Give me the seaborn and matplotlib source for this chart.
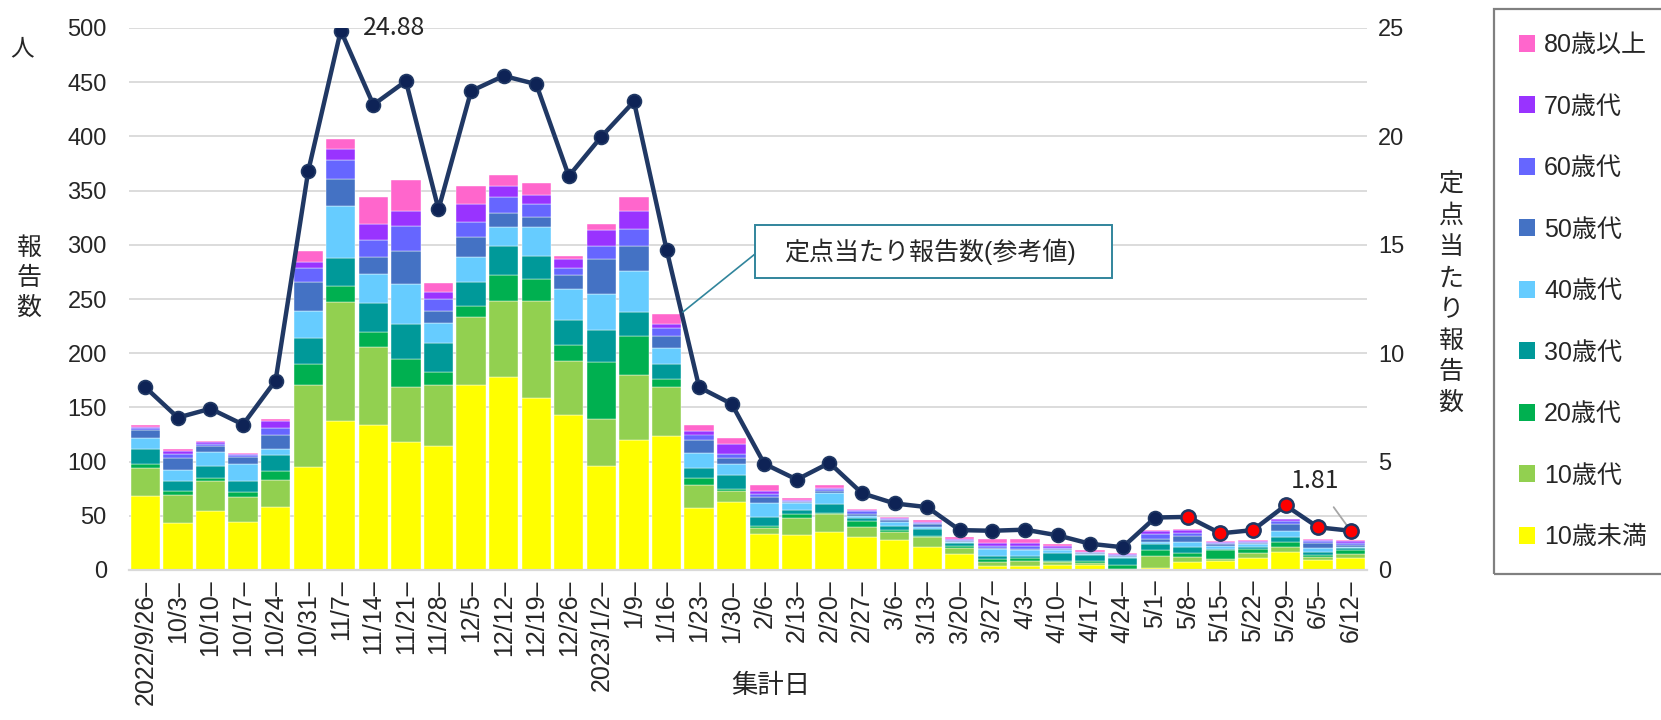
import matplotlib
matplotlib.use("Agg")
import matplotlib.pyplot as plt
import numpy as np
import pandas as pd
import seaborn as sns
from matplotlib.patches import Patch, Rectangle

# ---------------- data ----------------
dates = ['2022/9/26', '10/3', '10/10', '10/17', '10/24', '10/31', '11/7', '11/14',
         '11/21', '11/28', '12/5', '12/12', '12/19', '12/26', '2023/1/2', '1/9',
         '1/16', '1/23', '1/30', '2/6', '2/13', '2/20', '2/27', '3/6', '3/13',
         '3/20', '3/27', '4/3', '4/10', '4/17', '4/24', '5/1', '5/8', '5/15',
         '5/22', '5/29', '6/5', '6/12']

age_under10 = [68, 43, 54, 44, 58, 95, 137, 134, 118, 114, 171, 178, 159, 143, 96, 120, 124, 57, 63, 33,
               32, 35, 30, 28, 21, 15, 4, 4, 5, 5, 0, 2, 7, 8, 11, 17, 9, 11]
age_10s = [26, 26, 28, 23, 25, 76, 110, 72, 51, 57, 62, 70, 89, 50, 43, 60, 45, 21, 10, 6,
           16, 17, 10, 7, 9, 5, 3, 4, 2, 1, 1, 11, 5, 2, 5, 4, 3, 4]
age_20s = [4, 4, 3, 5, 8, 19, 15, 14, 26, 12, 11, 24, 20, 15, 53, 36, 7, 7, 2, 2,
           4, 1, 5, 2, 1, 2, 3, 3, 1, 2, 4, 5, 4, 8, 3, 5, 2, 3]
age_30s = [14, 9, 11, 10, 15, 24, 26, 26, 32, 26, 22, 27, 22, 23, 29, 22, 14, 9, 13, 8,
           3, 8, 3, 4, 7, 3, 3, 2, 8, 6, 6, 6, 5, 1, 2, 4, 3, 2]
age_40s = [10, 10, 13, 16, 6, 25, 48, 27, 37, 19, 23, 17, 26, 28, 34, 38, 15, 14, 10, 13,
           7, 10, 2, 3, 2, 1, 6, 5, 2, 1, 1, 2, 5, 3, 3, 6, 3, 1]
age_50s = [7, 11, 5, 6, 13, 27, 25, 16, 30, 11, 18, 13, 10, 13, 32, 23, 11, 12, 5, 5,
           1, 2, 2, 2, 2, 1, 1, 1, 1, 1, 1, 3, 5, 2, 1, 6, 5, 2]
age_60s = [2, 4, 2, 2, 6, 13, 17, 15, 23, 11, 14, 15, 12, 7, 12, 16, 7, 5, 4, 3,
           1, 2, 2, 1, 1, 1, 2, 3, 1, 1, 1, 4, 3, 1, 1, 3, 2, 2]
age_70s = [1, 3, 2, 1, 6, 5, 10, 15, 14, 6, 17, 10, 8, 8, 15, 16, 4, 3, 9, 3,
           1, 1, 1, 1, 1, 1, 3, 3, 2, 0, 1, 3, 3, 1, 1, 2, 1, 2]
age_80plus = [2, 2, 1, 1, 2, 10, 10, 25, 29, 9, 16, 10, 11, 3, 5, 13, 9, 6, 6, 5,
              1, 2, 1, 1, 2, 1, 4, 4, 2, 1, 1, 1, 1, 1, 1, 0, 1, 1]

per_site = [8.43, 7.03, 7.44, 6.71, 8.74, 18.39, 24.88, 21.46, 22.55, 16.64,
            22.09, 22.79, 22.41, 18.17, 19.99, 21.61, 14.78, 8.43, 7.66, 4.90,
            4.17, 4.94, 3.54, 3.07, 2.90, 1.84, 1.81, 1.86, 1.60, 1.21,
            1.05, 2.42, 2.45, 1.69, 1.84, 2.98, 1.97, 1.81]
# points shown with red markers (from 5/8)
red_flag = [False] * 32 + [True] * 6

age_labels = ['80歳以上', '70歳代', '60歳代', '50歳代', '40歳代', '30歳代', '20歳代', '10歳代', '10歳未満']
age_series = [age_80plus, age_70s, age_60s, age_50s, age_40s, age_30s, age_20s, age_10s, age_under10]
age_colors = ['#FF66CC', '#9933FF', '#6666FF', '#4472C4', '#66CCFF', '#009999', '#00B050', '#92D050', '#FFFF00']

# ---------------- tables ----------------
n = len(dates)
rows = []
for lab, ser in zip(age_labels, age_series):
    for i, v in enumerate(ser):
        rows.append({'idx': i, 'age': lab, 'count': v})
df = pd.DataFrame(rows)
line_df = pd.DataFrame({'idx': range(n), 'rate': per_site, 'red': red_flag})

# ---------------- style ----------------
sns.set_theme(style='white')
plt.rcParams['font.family'] = ['Liberation Sans', 'Noto Sans CJK JP']
FIG_W, FIG_H = 1661, 720

fig = plt.figure(figsize=(FIG_W / 100, FIG_H / 100), dpi=100)
fig.patch.set_facecolor('white')
L, R, T, B = 129, 1367, 28, 570
ax = fig.add_axes([L / FIG_W, 1 - B / FIG_H, (R - L) / FIG_W, (B - T) / FIG_H])

palette = dict(zip(age_labels, age_colors))
sns.histplot(data=df, x='idx', weights='count', hue='age', hue_order=age_labels,
             multiple='stack', discrete=True, shrink=0.9, palette=palette,
             alpha=1, edgecolor='white', linewidth=0.3, legend=False, ax=ax)

ax.set_xlim(-0.5, n - 0.5)
ax.set_ylim(0, 500)
ax.set_yticks(range(0, 501, 50))
ax.set_xticks(range(n))
ax.set_xticklabels([d + '–' for d in dates], rotation=90, fontsize=18)
ax.tick_params(axis='x', length=0, pad=7)
ax.tick_params(axis='y', length=0, pad=16, labelsize=17)
ax.set_xlabel('')
ax.set_ylabel('')
ax.yaxis.grid(True, color='#D9D9D9', linewidth=1.3)
ax.xaxis.grid(False)
ax.set_axisbelow(True)
for s in ['left', 'right', 'top']:
    ax.spines[s].set_visible(False)
ax.spines['bottom'].set_color('#D9D9D9')
ax.spines['bottom'].set_linewidth(1.6)

# ---------------- line (right axis) ----------------
ax2 = ax.twinx()
sns.lineplot(data=line_df, x='idx', y='rate', ax=ax2, color='#203864', linewidth=3.2,
             marker='o', markersize=10, markerfacecolor='#0E2356', markeredgecolor='#203864',
             markeredgewidth=1.2, zorder=3)
sns.scatterplot(data=line_df[line_df['red']], x='idx', y='rate', ax=ax2, color='#FF0000',
                s=105, edgecolor='#203864', linewidth=1.8, zorder=4)
ax2.set_ylim(0, 25)
ax2.set_yticks(range(0, 26, 5))
ax2.set_xlim(-0.5, n - 0.5)
ax2.tick_params(axis='y', length=0, pad=8, labelsize=17)
ax2.set_xlabel('')
ax2.set_ylabel('')
for s in ax2.spines.values():
    s.set_visible(False)

# data labels
imax = int(np.argmax(per_site))
ax2.annotate(f'{per_site[imax]:.2f}', xy=(imax, per_site[imax]), xytext=(16, 2),
             textcoords='offset points', ha='left', va='center', fontsize=18,
             family=['Noto Sans CJK JP'])
ilast = n - 1
ax2.annotate(f'{per_site[ilast]:.2f}', xy=(ilast, per_site[ilast]), xytext=(-26, 36),
             textcoords='offset points', ha='center', va='center', fontsize=18,
             family=['Noto Sans CJK JP'],
             arrowprops=dict(arrowstyle='-', color='#A6A6A6', lw=1.3, shrinkA=9, shrinkB=3))

# callout for the line series
box_color = '#31859C'
bx0, by0, bx1, by1 = 755, 225, 1112, 278
fig.patches.append(Rectangle((bx0 / FIG_W, 1 - by1 / FIG_H), (bx1 - bx0) / FIG_W, (by1 - by0) / FIG_H,
                             transform=fig.transFigure, fill=True, facecolor='white',
                             edgecolor=box_color, linewidth=1.4, zorder=5))
fig.text((bx0 + bx1) / 2 / FIG_W - 0.002, 1 - (by0 + by1) / 2 / FIG_H, '定点当たり報告数(参考値)',
         ha='center', va='center', fontsize=18, zorder=6)
ax2.annotate('', xy=(16.5, 11.9), xycoords='data',
             xytext=(bx0 / FIG_W, 1 - 254 / FIG_H), textcoords='figure fraction',
             arrowprops=dict(arrowstyle='-', color=box_color, lw=1.2, shrinkA=0, shrinkB=0))

# axis titles
fig.text(22 / FIG_W, 1 - 49 / FIG_H, '人', ha='center', va='center', fontsize=17)
fig.text(29 / FIG_W, 1 - 278 / FIG_H, '報\n告\n数', ha='center', va='center', fontsize=18,
         linespacing=1.3)
fig.text(1451 / FIG_W, 1 - 294 / FIG_H, '\n'.join('定点当たり報告数'), ha='center', va='center',
         fontsize=18, linespacing=1.38)
fig.text(771 / FIG_W, 1 - 686 / FIG_H, '集計日', ha='center', va='center', fontsize=19)

# legend
fig.patches.append(Rectangle((1494 / FIG_W, 1 - 574 / FIG_H), (FIG_W + 10 - 1494) / FIG_W, (574 - 8.5) / FIG_H,
                             transform=fig.transFigure, fill=False, edgecolor='#808080',
                             linewidth=1.6, clip_on=False))
handles = [Patch(facecolor=c, edgecolor='none') for c in age_colors]
fig.legend(handles, age_labels, loc='upper left', bbox_to_anchor=(1519 / FIG_W, 1 - 33 / FIG_H),
           frameon=False, fontsize=18, handlelength=0.65, handleheight=0.65,
           handletextpad=0.35, labelspacing=1.50, borderpad=0, borderaxespad=0)

fig.savefig('out.png', dpi=100, facecolor='white')
